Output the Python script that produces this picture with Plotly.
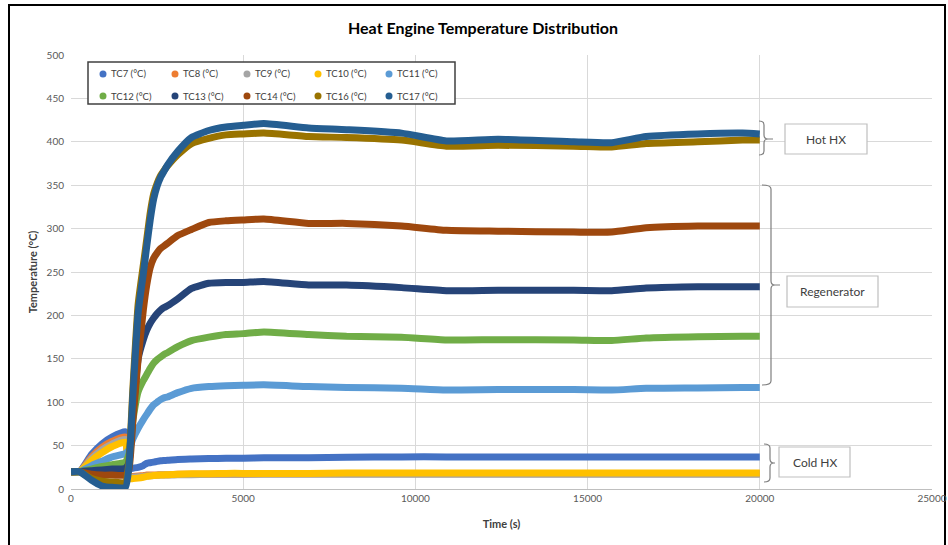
import plotly.graph_objects as go

# ---------------- data ----------------
time_s = [0, 250, 600, 900, 1200, 1580, 1680, 1800, 1950, 2100, 2200, 2300, 2400, 2500, 2600,
          2700, 2800, 3100, 3500, 4000, 4500, 5000, 5600, 6900, 8000, 9600, 10900, 12400,
          14600, 15700, 16700, 18200, 19500, 20000]

tc7 = [20, 20, 40, 52, 60, 66, 23, 24, 25, 27, 29.6, 30.3, 31, 31.8, 32.5, 32.8, 33, 34, 34.5,
       35, 35.5, 35.5, 36, 36, 36.5, 37, 37, 37, 37, 37, 37, 37, 37, 37]
tc8 = [20, 20, 37, 48, 55, 60, 14, 14.5, 15, 15.5, 16, 16, 16, 16.2, 16.5, 16.5, 16.5, 17, 17,
       17, 17, 17, 17.5, 17.5, 17.5, 17.5, 17.5, 17.5, 17.5, 17.5, 17.5, 17.5, 17.5, 17.5]
tc9 = [20, 20, 35, 45, 52, 57, 13, 13.5, 14, 14.5, 15, 15.2, 15.5, 15.8, 16, 16, 16, 16.5, 16.5,
       17, 17, 17, 17, 17, 17, 17, 17, 17, 17, 17, 17, 17, 17, 17]
tc10 = [20, 20, 33, 42, 49, 54, 12, 12, 12.5, 13.5, 14.5, 15, 15.5, 15.8, 16, 16.2, 16.5, 17,
        17.5, 17.5, 18, 18, 18, 18, 18.5, 18.5, 18.5, 18.5, 18.5, 18.5, 18.5, 18.5, 18.5, 18.5]
tc11 = [20, 20, 27, 32, 37, 41, 45, 58, 70, 80, 86, 92, 97, 100, 103, 105, 106, 111, 116, 118,
        119, 119.5, 120, 118, 117, 116, 114, 114.5, 114.5, 114, 116, 116.5, 117, 117]
tc12 = [20, 20, 23, 26, 28, 31, 40, 80, 112, 125, 132, 139, 145, 149, 152, 155, 157, 164, 171,
        175, 178, 179, 181, 178, 176, 174.7, 171.7, 172, 171.7, 171, 174, 175.5, 176, 176]
tc13 = [20, 20, 21, 22, 23, 24, 30, 88, 150, 172, 183, 191, 197, 202, 206, 209, 211, 219, 231,
        237, 238, 238, 239, 235, 235, 232, 228.5, 229, 229, 228.5, 231.5, 233, 233, 233]
tc14 = [20, 20, 17, 16, 16, 16, 22, 80, 150, 206, 235, 255, 266, 272, 277, 280, 283, 292, 299,
        307, 309, 310, 311, 306, 306, 303, 298, 297, 296, 296, 301, 303, 303, 303]
tc16 = [20, 20, 12, 9, 8, 8, 30, 118, 213, 258, 288, 318, 340, 352, 361, 367, 372, 385, 398,
        404, 408, 409, 410, 406, 405, 402, 395, 396, 395, 394, 398, 400, 402, 402]
tc17 = [20, 20, 10, 3.5, 2, 2, 25, 110, 203, 248, 280, 310, 334, 349, 359, 366, 373, 389, 405,
        413, 417, 419, 421, 416, 414, 410, 401, 403, 400, 399, 406, 409, 410, 409]

series_names = ["TC7 (°C)", "TC8 (°C)", "TC9 (°C)", "TC10 (°C)", "TC11 (°C)",
                "TC12 (°C)", "TC13 (°C)", "TC14 (°C)", "TC16 (°C)", "TC17 (°C)"]
series_values = [tc7, tc8, tc9, tc10, tc11, tc12, tc13, tc14, tc16, tc17]
series_colors = ["#4472C4", "#ED7D31", "#A5A5A5", "#FFC000", "#5B9BD5",
                 "#70AD47", "#264478", "#9E480E", "#997300", "#255E91"]

group_labels = ["Hot HX", "Regenerator", "Cold HX"]

# ---------------- geometry helpers ----------------
W, H = 948, 545
PL, PR, PT, PB = 71, 932, 55, 489  # plot area in pixels


def px(x):
    return (x - PL) / (PR - PL)


def py(y):
    return (PB - y) / (PB - PT)


FONT = "Lato, Carlito, Calibri, sans-serif"

fig = go.Figure()

for name, vals, col in zip(series_names, series_values, series_colors):
    fig.add_trace(go.Scatter(
        x=time_s, y=vals, mode="lines", name=name,
        line=dict(color=col, width=7, shape="spline", smoothing=0.5),
        showlegend=False,
        hovertemplate="%{x} s<br>%{y} °C<extra>" + name + "</extra>"))

shapes = []
annotations = []
# outer frame
shapes.append(dict(type="rect", xref="paper", yref="paper",
                   x0=px(9), x1=px(945), y0=py(560), y1=py(5),
                   line=dict(color="#000000", width=2), layer="below"))
# legend box
shapes.append(dict(type="rect", xref="paper", yref="paper",
                   x0=px(88), x1=px(455), y0=py(104), y1=py(62),
                   line=dict(color="#404040", width=1.5), fillcolor="rgba(255,255,255,1)",
                   layer="above"))
# legend entries (two rows of five)
col_x = [103, 175, 247, 318, 389]
row_y = [74, 96]
for i, (name, col) in enumerate(zip(series_names, series_colors)):
    cx, cy = col_x[i % 5], row_y[i // 5]
    shapes.append(dict(type="circle", xref="paper", yref="paper",
                       x0=px(cx - 3.5), x1=px(cx + 3.5), y0=py(cy + 3.5), y1=py(cy - 3.5),
                       fillcolor=col, line=dict(color=col, width=0), layer="above"))
    annotations.append(dict(xref="paper", yref="paper", x=px(cx + 6), y=py(cy),
                            text=name, showarrow=False, xanchor="left", yanchor="middle",
                            font=dict(family=FONT, size=9.5, color="#404040")))


def bracket(xv, xh, top, bot, mid, xt):
    r = 4
    p = (f"M {px(xh)},{py(top)} Q {px(xv)},{py(top)} {px(xv)},{py(top + r)} "
         f"L {px(xv)},{py(mid - r)} Q {px(xv)},{py(mid)} {px(xv + r)},{py(mid)} "
         f"L {px(xt)},{py(mid)} "
         f"M {px(xv + r)},{py(mid)} Q {px(xv)},{py(mid)} {px(xv)},{py(mid + r)} "
         f"L {px(xv)},{py(bot - r)} Q {px(xv)},{py(bot)} {px(xh)},{py(bot)}")
    return dict(type="path", xref="paper", yref="paper", path=p,
                line=dict(color="#7F7F7F", width=1.2))


shapes.append(bracket(764, 759, 121, 155, 139, 773))
shapes.append(bracket(771, 762, 185, 385, 285, 780))
shapes.append(bracket(770, 764, 444, 482, 463, 775))

boxes = [(785, 867, 124, 154), (787, 878, 276, 307), (779, 850, 447, 477)]
for (x0, x1, y0, y1), lab in zip(boxes, group_labels):
    shapes.append(dict(type="rect", xref="paper", yref="paper",
                       x0=px(x0), x1=px(x1), y0=py(y1), y1=py(y0),
                       line=dict(color="#BFBFBF", width=1.2), fillcolor="white",
                       layer="above"))
    annotations.append(dict(xref="paper", yref="paper", x=px((x0 + x1) / 2),
                            y=py((y0 + y1) / 2), text=lab, showarrow=False,
                            font=dict(family=FONT, size=12, color="#404040"),
                            xanchor="center", yanchor="middle"))

fig.update_layout(
    width=W, height=H,
    margin=dict(l=PL, r=W - PR, t=PT, b=H - PB, pad=0),
    paper_bgcolor="white", plot_bgcolor="white",
    showlegend=False,
    font=dict(family=FONT, color="#595959", size=10),
    title=dict(text="<b>Heat Engine Temperature Distribution</b>",
               x=px(483), xref="paper", xanchor="center",
               y=1 - 28 / H, yanchor="middle",
               font=dict(family=FONT, size=16, color="#000000")),
    xaxis=dict(range=[0, 25000], dtick=5000, tick0=0, tickformat="d", showgrid=True,
               gridcolor="#D9D9D9", gridwidth=1, zeroline=False, automargin=False,
               showline=True, linecolor="#BFBFBF", linewidth=1,
               ticks="", tickfont=dict(size=10, color="#595959"),
               title=dict(text="<b>Time (s)</b>", standoff=17,
                          font=dict(size=11, color="#404040"))),
    yaxis=dict(range=[0, 500], dtick=50, tick0=0, showgrid=True,
               gridcolor="#D9D9D9", gridwidth=1, zeroline=False, automargin=False,
               showline=False, ticks="", ticklabelstandoff=6,
               tickfont=dict(size=10, color="#595959"),
               title=dict(text="<b>Temperature (°C)</b>", standoff=6,
                          font=dict(size=11, color="#404040"))),
    shapes=shapes,
    annotations=annotations,
)

fig.write_html("out.html")
